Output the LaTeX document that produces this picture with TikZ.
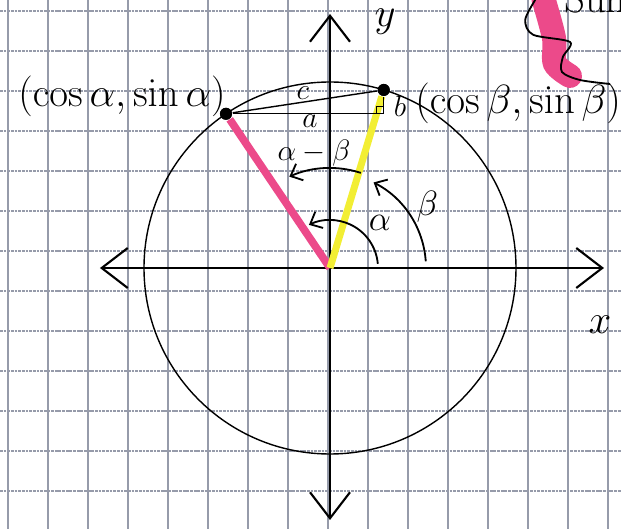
\RequirePackage{fix-cm}
\documentclass[tikz,border=0pt]{standalone}
\usepackage{amsmath}
\usepackage{amssymb}
\usetikzlibrary{arrows.meta, positioning}

\definecolor{hlpink}{RGB}{236,74,138}
\definecolor{hlyellow}{RGB}{242,238,52}
\definecolor{paper}{RGB}{150,155,170}

\begin{document}
\begin{tikzpicture}[
  gridv/.style={draw=paper, line width=0.8pt},
  gridh/.style={draw=paper, line width=0.8pt, dash pattern=on 2pt off 0.6pt},
  axis/.style={line width=1.5pt, {Straight Barb[length=6.5mm, width=10mm]}-{Straight Barb[length=6.5mm, width=10mm]}},
  angarc/.style={line width=1.3pt, -{Straight Barb[length=2.5mm, width=4.5mm]}},
  pt/.style={circle, fill=black, inner sep=0pt, minimum size=3mm},
  lbl/.style={font=\fontsize{29}{33}\selectfont},
  lblang/.style={font=\fontsize{25}{29}\selectfont},
  lblsm/.style={font=\fontsize{21}{25}\selectfont, inner sep=0.5pt},
  line width=1pt
]
  \useasboundingbox (-8.25,-6.525) rectangle (7.275,6.7);
  \foreach \i in {0,...,15} \draw[gridv] (-8.05+\i,-6.525) -- (-8.05+\i,6.7);
  \foreach \j in {0,...,13} \draw[gridh] (-8.25,6.425-\j) -- (7.275,6.425-\j);

  \coordinate (O) at (0,0);
  \coordinate (xl) at (-5.75,0);
  \coordinate (xr) at (6.85,0);
  \coordinate (yb) at (0,-6.3);
  \coordinate (yt) at (0,6.35);

  \draw[axis] (xl) -- (xr);
  \draw[axis] (yb) -- (yt);
  \draw (O) circle (4.65);

  \node[pt] (A) at (124:4.65) {};
  \node[pt] (B) at (73.2:4.65) {};
  \coordinate (C) at (B |- A);

  \draw[hlpink, line width=5.5pt] (O) -- (A);
  \draw[hlyellow, line width=5pt] (O) -- (B);
  \draw (A) -- (B);
  \draw (A) -- (C) -- (B);
  \draw ([xshift=-1.8mm]C) -- ++(0,1.8mm) -- ++(1.8mm,0);
  \node[pt] at (A) {};
  \node[pt] at (B) {};

  \draw[angarc] (5:1.2) arc[start angle=5, end angle=116, radius=1.2];
  \draw[angarc] (4:2.4) arc[start angle=4, end angle=63, radius=2.4];
  \draw[angarc] (72:2.5) arc[start angle=72, end angle=114, radius=2.5];

  \node[lblsm] (lc) at (-0.68,4.38) {$c$};
  \node[lblsm] (la) at (-0.5,3.66) {$a$};
  \node[lblsm] (lb) at (1.75,4.05) {$b$};
  \node[lblsm] (lamb) at (-0.4,2.88) {$\alpha-\beta$};
  \node[lblang] (lal) at (1.25,1.12) {$\alpha$};
  \node[lblang] (lbe) at (2.43,1.53) {$\beta$};

  \node[lbl] (pa) at (-5.2,4.3) {$(\cos\alpha, \sin\alpha)$};
  \node[lbl, anchor=west] (pb) at (2.0,4.12) {$(\cos\beta, \sin\beta)$};
  \node[lbl, inner sep=1pt] (ly) at (1.38,6.15) {$y$};
  \node[lbl] (lx) at (6.75,-1.42) {$x$};

  \draw[hlpink, line width=6mm, line cap=round] plot[smooth] coordinates {(5.33,6.75) (5.6,5.75) (5.62,5.12) (6.0,4.8)};
  \draw[line width=1.3pt] plot[smooth] coordinates {(5.13,6.7) (4.88,6.2) (5.08,5.83) (6.0,5.65) (5.82,5.27) (5.8,4.9) (6.25,4.7) (7.0,4.6)};
  \node[lbl, anchor=base west] (sum) at (5.72,6.38) {Sum};
\end{tikzpicture}
\end{document}
